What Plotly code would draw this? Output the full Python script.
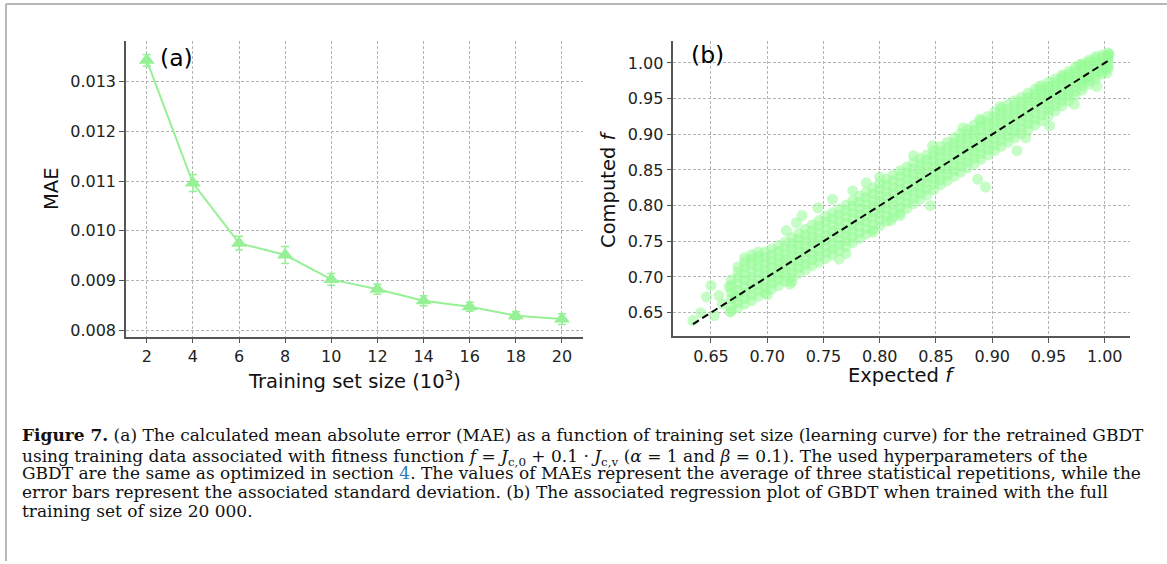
import plotly.graph_objects as go

# ---------------- data ----------------
TRAIN_SIZE = [2, 4, 6, 8, 10, 12, 14, 16, 18, 20]
MAE = [0.01343, 0.01096, 0.00975, 0.00951, 0.00902, 0.00882, 0.00859, 0.00847, 0.00829, 0.00822]
MAE_STD = [0.00012, 0.00017, 0.00014, 0.00017, 0.00012, 0.00010, 0.00010, 0.00009, 0.00008, 0.00011]

X_TICKS_A = [2, 4, 6, 8, 10, 12, 14, 16, 18, 20]
Y_TICKS_A = [0.008, 0.009, 0.010, 0.011, 0.012, 0.013]
TICKS_B = [0.65, 0.70, 0.75, 0.80, 0.85, 0.90, 0.95, 1.00]

# dense band of (expected, [computed ...])
BAND = [
    (0.668, [0.652, 0.660, 0.669, 0.678, 0.688, 0.696]),
    (0.674, [0.657, 0.664, 0.673, 0.681, 0.690, 0.699, 0.707, 0.714]),
    (0.680, [0.662, 0.670, 0.678, 0.687, 0.696, 0.704, 0.713, 0.721, 0.727]),
    (0.686, [0.667, 0.675, 0.684, 0.692, 0.700, 0.709, 0.717, 0.725, 0.731]),
    (0.692, [0.673, 0.681, 0.689, 0.697, 0.706, 0.714, 0.722, 0.729, 0.735]),
    (0.698, [0.678, 0.686, 0.694, 0.703, 0.711, 0.719, 0.727, 0.735]),
    (0.704, [0.683, 0.691, 0.699, 0.707, 0.715, 0.723, 0.731, 0.739]),
    (0.710, [0.688, 0.696, 0.704, 0.712, 0.720, 0.728, 0.736, 0.744]),
    (0.716, [0.694, 0.702, 0.709, 0.717, 0.725, 0.733, 0.741, 0.749]),
    (0.722, [0.699, 0.707, 0.715, 0.723, 0.731, 0.739, 0.747, 0.755]),
    (0.728, [0.705, 0.713, 0.721, 0.729, 0.737, 0.745, 0.753, 0.761]),
    (0.734, [0.710, 0.718, 0.726, 0.735, 0.743, 0.751, 0.759, 0.767]),
    (0.740, [0.716, 0.724, 0.732, 0.741, 0.749, 0.757, 0.765, 0.773]),
    (0.746, [0.721, 0.729, 0.737, 0.746, 0.754, 0.762, 0.771, 0.779]),
    (0.752, [0.726, 0.734, 0.742, 0.751, 0.759, 0.768, 0.777, 0.785]),
    (0.758, [0.731, 0.739, 0.747, 0.756, 0.764, 0.773, 0.782, 0.790]),
    (0.764, [0.737, 0.745, 0.753, 0.762, 0.770, 0.779, 0.787, 0.795]),
    (0.770, [0.743, 0.751, 0.759, 0.767, 0.776, 0.784, 0.793, 0.801]),
    (0.776, [0.748, 0.756, 0.765, 0.773, 0.782, 0.790, 0.799, 0.807]),
    (0.782, [0.754, 0.762, 0.771, 0.779, 0.788, 0.796, 0.805, 0.813]),
    (0.788, [0.760, 0.768, 0.777, 0.785, 0.794, 0.802, 0.811, 0.819]),
    (0.794, [0.766, 0.774, 0.783, 0.791, 0.800, 0.808, 0.817, 0.825]),
    (0.800, [0.772, 0.780, 0.789, 0.797, 0.806, 0.814, 0.823, 0.831]),
    (0.806, [0.778, 0.786, 0.795, 0.803, 0.812, 0.820, 0.829, 0.837]),
    (0.812, [0.784, 0.792, 0.801, 0.809, 0.818, 0.826, 0.835, 0.843]),
    (0.818, [0.790, 0.798, 0.807, 0.815, 0.824, 0.832, 0.841, 0.849]),
    (0.824, [0.796, 0.804, 0.813, 0.821, 0.830, 0.838, 0.846, 0.854]),
    (0.830, [0.803, 0.811, 0.819, 0.827, 0.836, 0.844, 0.852, 0.860]),
    (0.836, [0.809, 0.817, 0.825, 0.833, 0.842, 0.850, 0.858, 0.866]),
    (0.842, [0.815, 0.823, 0.831, 0.839, 0.848, 0.856, 0.864, 0.871]),
    (0.848, [0.822, 0.830, 0.838, 0.846, 0.854, 0.862, 0.870, 0.877]),
    (0.854, [0.829, 0.836, 0.844, 0.852, 0.860, 0.868, 0.876, 0.883]),
    (0.860, [0.835, 0.843, 0.851, 0.859, 0.867, 0.875, 0.882, 0.889]),
    (0.866, [0.841, 0.849, 0.857, 0.865, 0.873, 0.881, 0.888, 0.895]),
    (0.872, [0.847, 0.855, 0.863, 0.871, 0.879, 0.887, 0.894, 0.901]),
    (0.878, [0.853, 0.861, 0.869, 0.877, 0.885, 0.893, 0.900, 0.907]),
    (0.884, [0.859, 0.867, 0.875, 0.883, 0.891, 0.899, 0.906, 0.913]),
    (0.890, [0.865, 0.873, 0.881, 0.889, 0.897, 0.905, 0.912, 0.919]),
    (0.896, [0.871, 0.879, 0.887, 0.895, 0.903, 0.911, 0.918, 0.925]),
    (0.902, [0.877, 0.885, 0.893, 0.901, 0.909, 0.917, 0.924, 0.931]),
    (0.908, [0.883, 0.891, 0.899, 0.907, 0.915, 0.922, 0.929, 0.936]),
    (0.914, [0.889, 0.897, 0.905, 0.913, 0.921, 0.928, 0.935, 0.942]),
    (0.920, [0.895, 0.903, 0.911, 0.919, 0.927, 0.934, 0.941, 0.947]),
    (0.926, [0.901, 0.909, 0.917, 0.925, 0.933, 0.940, 0.946, 0.952]),
    (0.932, [0.907, 0.915, 0.923, 0.931, 0.939, 0.946, 0.952, 0.958]),
    (0.938, [0.913, 0.921, 0.929, 0.937, 0.945, 0.951, 0.957, 0.963]),
    (0.944, [0.919, 0.927, 0.935, 0.943, 0.950, 0.956, 0.962, 0.968]),
    (0.950, [0.926, 0.934, 0.941, 0.949, 0.956, 0.962, 0.967, 0.973]),
    (0.956, [0.933, 0.940, 0.948, 0.955, 0.962, 0.968, 0.973, 0.978]),
    (0.962, [0.940, 0.947, 0.954, 0.961, 0.968, 0.974, 0.978, 0.983]),
    (0.968, [0.947, 0.954, 0.961, 0.968, 0.974, 0.980, 0.984, 0.988]),
    (0.974, [0.955, 0.961, 0.968, 0.974, 0.980, 0.986, 0.990, 0.994]),
    (0.980, [0.962, 0.968, 0.974, 0.980, 0.986, 0.992, 0.996, 0.999]),
    (0.986, [0.970, 0.975, 0.981, 0.986, 0.992, 0.997, 1.001, 1.004]),
    (0.992, [0.977, 0.982, 0.987, 0.992, 0.997, 1.002, 1.006, 1.009]),
    (0.998, [0.985, 0.989, 0.994, 0.999, 1.003, 1.008, 1.011]),
    (1.003, [0.992, 0.995, 1.000, 1.005, 1.009, 1.012, 1.014]),
]

# sparse points outside the dense band
OUT_EXPECTED = [0.634, 0.641, 0.646, 0.650, 0.653, 0.657, 0.660, 0.666, 0.667, 0.671,
                0.700, 0.720, 0.722, 0.717, 0.731, 0.726, 0.758, 0.745, 0.764, 0.770,
                0.776, 0.788, 0.800, 0.794, 0.810, 0.818, 0.830, 0.845, 0.847, 0.887,
                0.894, 0.874, 0.889, 0.907, 0.922, 0.930, 0.942, 0.951, 0.963, 0.973,
                0.978, 0.982, 0.993, 1.002, 1.004]
OUT_COMPUTED = [0.639, 0.650, 0.672, 0.688, 0.646, 0.674, 0.662, 0.686, 0.651, 0.674,
                0.675, 0.690, 0.693, 0.765, 0.786, 0.776, 0.809, 0.797, 0.725, 0.733,
                0.821, 0.832, 0.840, 0.763, 0.779, 0.786, 0.870, 0.800, 0.884, 0.837,
                0.826, 0.909, 0.921, 0.939, 0.877, 0.895, 0.967, 0.912, 0.981, 0.942,
                0.998, 0.977, 0.967, 0.986, 1.012]

EXPECTED = [e for e, cs in BAND for _ in cs] + OUT_EXPECTED
COMPUTED = [c for e, cs in BAND for c in cs] + OUT_COMPUTED

CAPTION = [
    "<b>Figure 7.</b> (a) The calculated mean absolute error (MAE) as a function of training set size (learning curve) for the retrained GBDT",
    "using training data associated with fitness function <i>f</i> = <i>J</i><sub>c,0</sub> + 0.1 · <i>J</i><sub>c,v</sub> (<i>α</i> = 1 and <i>β</i> = 0.1). The used hyperparameters of the",
    "GBDT are the same as optimized in section <span style='color:#2b7bbf'>4</span>. The values of MAEs represent the average of three statistical repetitions, while the",
    "error bars represent the associated standard deviation. (b) The associated regression plot of GBDT when trained with the full",
    "training set of size 20 000.",
]

# ---------------- figure ----------------
W, H = 1167, 564
GREEN_A = "#96F096"
GREEN_B = "rgb(152,251,152)"
AX = "#555555"
GRID = "#b4b4b4"
TICKFONT = dict(family="DejaVu Sans", size=16, color="#222222")


def px(x):
    return x / W


def py(y):
    return 1 - y / H


fig = go.Figure()

fig.add_trace(go.Scatter(
    x=TRAIN_SIZE, y=MAE, mode="lines+markers",
    line=dict(color=GREEN_A, width=2),
    marker=dict(symbol="triangle-up", size=14, color=GREEN_A),
    error_y=dict(type="data", array=MAE_STD, color=GREEN_A, thickness=1.5, width=4),
    xaxis="x", yaxis="y", showlegend=False,
))

fig.add_trace(go.Scatter(
    x=EXPECTED, y=COMPUTED, mode="markers",
    marker=dict(size=11, color=GREEN_B, opacity=0.55, line=dict(width=0)),
    xaxis="x2", yaxis="y2", showlegend=False,
))

lo, hi = min(EXPECTED), max(EXPECTED)
fig.add_trace(go.Scatter(
    x=[lo, hi], y=[lo, hi], mode="lines",
    line=dict(color="black", width=2, dash="7px,4px"),
    xaxis="x2", yaxis="y2", showlegend=False,
))

axis_common = dict(
    showline=True, linecolor=AX, linewidth=1.5, mirror=False,
    ticks="outside", ticklen=5, tickwidth=1.2, tickcolor=AX,
    showgrid=True, gridcolor=GRID, gridwidth=0.8, griddash="3px,2px",
    zeroline=False, tickfont=TICKFONT,
)

fig.update_layout(
    width=W, height=H, autosize=False,
    margin=dict(l=0, r=0, t=0, b=0),
    paper_bgcolor="white", plot_bgcolor="white",
    xaxis=dict(domain=[px(126), px(582.7)], range=[1.1, 20.9], tickvals=X_TICKS_A,
               anchor="y", **axis_common),
    yaxis=dict(domain=[py(338.3), py(41.7)], range=[0.00787, 0.01381], tickvals=Y_TICKS_A,
               tickformat=".3f", anchor="x", **axis_common),
    xaxis2=dict(domain=[px(673.3), px(1130)], range=[0.6165, 1.0225], tickvals=TICKS_B,
                tickformat=".2f", anchor="y2", **axis_common),
    yaxis2=dict(domain=[py(337.7), py(41.7)], range=[0.6174, 1.0301], tickvals=TICKS_B,
                tickformat=".2f", anchor="x2", **axis_common),
)

LABEL = dict(family="DejaVu Sans", size=19.5, color="#111111")
ann = [
    dict(x=px(52), y=py(190), text="MAE", textangle=-90, font=LABEL),
    dict(x=px(354.3), y=py(382), text="Training set size (10<sup>3</sup>)", font=LABEL),
    dict(x=px(609), y=py(190), text="Computed <i>f</i>", textangle=-90, font=LABEL),
    dict(x=px(901.6), y=py(378), text="Expected <i>f</i>", font=LABEL),
    dict(x=px(176), y=py(58.5), text="(a)", font=dict(family="DejaVu Sans", size=23.5, color="black")),
    dict(x=px(707), y=py(55), text="(b)", font=dict(family="DejaVu Sans", size=23.5, color="black")),
]
for a in ann:
    a.update(xref="paper", yref="paper", showarrow=False, xanchor="center", yanchor="middle")

CAP_Y = [437, 460, 476, 495, 514]
for txt, yy in zip(CAPTION, CAP_Y):
    ann.append(dict(x=px(20), y=py(yy), xref="paper", yref="paper", showarrow=False,
                    xanchor="left", yanchor="middle", text=txt,
                    font=dict(family="DejaVu Serif", size=17, color="#111111")))

fig.update_layout(annotations=ann)

fig.update_layout(shapes=[
    dict(type="line", xref="paper", yref="paper", x0=px(6), x1=1, y0=py(4), y1=py(4),
         line=dict(color="#a0a0a0", width=1.5)),
    dict(type="line", xref="paper", yref="paper", x0=px(6), x1=px(6), y0=py(4), y1=0,
         line=dict(color="#a0a0a0", width=1.5)),
])

fig.write_html("out.html")
